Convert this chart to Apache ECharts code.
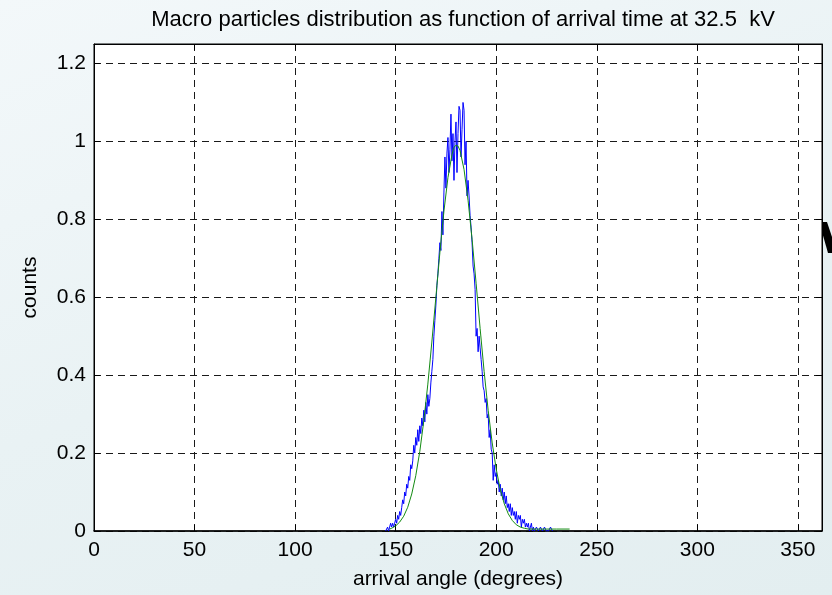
<!DOCTYPE html>
<html>
<head>
<meta charset="utf-8">
<script src="https://cdn.jsdelivr.net/npm/echarts@6/dist/echarts.min.js"></script>
<style>
html,body{margin:0;padding:0;}
#chart{width:832px;height:595px;background:linear-gradient(160deg,#f3f8fa 0%,#e9f2f4 50%,#e3eef0 100%);}
</style>
</head>
<body>
<div id="chart"></div>
<script>
const titleText = 'Macro particles distribution as function of arrival time at 32.5  kV';
const xName = 'arrival angle (degrees)';
const yName = 'counts';
const xTicks = [0, 50, 100, 150, 200, 250, 300, 350];
const yTicks = [0, 0.2, 0.4, 0.6, 0.8, 1, 1.2];

// measured histogram (blue)
const blueAngle = [
145.0,145.5,146.0,146.5,147.0,147.5,148.0,148.5,149.0,149.5,
150.0,150.5,151.0,151.5,152.0,152.5,153.0,153.5,154.0,154.5,
155.0,155.5,156.0,156.5,157.0,157.5,158.0,158.5,159.0,159.5,
160.0,160.5,161.0,161.5,162.0,162.5,163.0,163.5,164.0,164.5,
165.0,165.5,166.0,166.5,167.0,167.5,168.0,168.5,169.0,169.5,
170.0,170.5,171.0,171.5,172.0,172.5,173.0,173.5,174.0,174.5,
175.0,175.5,176.0,176.5,177.0,177.5,178.0,178.5,179.0,179.5,
180.0,180.5,181.0,181.5,182.0,182.5,183.0,183.5,184.0,184.5,
185.0,185.5,186.0,186.5,187.0,187.5,188.0,188.5,189.0,189.5,
190.0,190.5,191.0,191.5,192.0,192.5,193.0,193.5,194.0,194.5,
195.0,195.5,196.0,196.5,197.0,197.5,198.0,198.5,199.0,199.5,
200.0,200.5,201.0,201.5,202.0,202.5,203.0,203.5,204.0,204.5,
205.0,205.5,206.0,206.5,207.0,207.5,208.0,208.5,209.0,209.5,
210.0,210.5,211.0,211.5,212.0,212.5,213.0,213.5,214.0,214.5,
215.0,215.5,216.0,216.5,217.0,217.5,218.0,218.5,219.0,220.0,
221.0,222.0,223.0,224.0,225.0,226.0,227.0,228.0
];
const blueCounts = [
0.00,0.00,0.01,0.00,0.01,0.02,0.01,0.02,0.01,0.02,
0.03,0.02,0.04,0.03,0.05,0.04,0.06,0.08,0.07,0.10,
0.09,0.12,0.11,0.14,0.13,0.17,0.16,0.18,0.22,0.20,
0.24,0.22,0.26,0.23,0.27,0.25,0.29,0.27,0.31,0.28,
0.33,0.30,0.35,0.32,0.34,0.38,0.41,0.44,0.50,0.54,
0.58,0.63,0.66,0.70,0.74,0.72,0.82,0.76,0.87,0.96,
0.88,0.97,1.01,0.92,0.98,1.07,0.95,1.02,0.90,1.00,
1.05,0.92,1.02,1.09,1.08,0.96,1.03,1.10,1.08,0.94,
1.00,0.86,0.90,0.86,0.81,0.78,0.74,0.68,0.66,0.62,
0.50,0.52,0.46,0.50,0.47,0.44,0.41,0.37,0.36,0.33,
0.34,0.29,0.30,0.24,0.26,0.21,0.20,0.13,0.17,0.14,
0.15,0.12,0.13,0.10,0.12,0.09,0.11,0.08,0.10,0.07,
0.09,0.06,0.07,0.05,0.07,0.04,0.06,0.04,0.05,0.03,
0.05,0.02,0.04,0.03,0.04,0.01,0.03,0.02,0.03,0.01,
0.02,0.01,0.02,0.00,0.01,0.02,0.00,0.01,0.00,0.01,
0.00,0.01,0.00,0.01,0.00,0.00,0.01,0.00
];

// fitted curve (green)
const fitAngle = [147,148,150,152,154,156,158,160,162,164,166,168,170,172,174,176,178,179,180,181,182,184,186,188,190,192,194,196,198,200,202,204,206,208,210,212,214,216,220,225,230,236.5];
const fitCounts = [0.005,0.007,0.013,0.023,0.038,0.061,0.095,0.142,0.204,0.283,0.377,0.485,0.600,0.715,0.821,0.907,0.966,0.985,0.990,0.988,0.977,0.928,0.849,0.749,0.636,0.520,0.409,0.310,0.226,0.159,0.107,0.070,0.044,0.027,0.016,0.010,0.007,0.005,0.005,0.005,0.005,0.005];

const FONT = 'Liberation Sans, Arial, sans-serif';
const chart = echarts.init(document.getElementById('chart'), null, {renderer: 'canvas'});

const gridDash = {color: '#1a1a1a', width: 1, type: [7, 5]};
const xMax = 362, yMax = 1.25;

chart.setOption({
  animation: false,
  backgroundColor: 'transparent',
  title: {
    text: titleText,
    left: 458, top: 4, textAlign: 'center',
    textStyle: {fontFamily: FONT, fontSize: 22, fontWeight: 'normal', color: '#000'}
  },
  grid: {left: 94, right: 10, top: 44, bottom: 64, show: true, backgroundColor: '#ffffff', borderColor: '#000', borderWidth: 1},
  xAxis: [{
    type: 'value', min: 0, max: xMax, interval: 50,
    name: xName, nameLocation: 'middle', nameGap: 38,
    nameTextStyle: {fontFamily: FONT, fontSize: 21, color: '#000'},
    axisLine: {show: true, onZero: false, lineStyle: {color: '#000', width: 1.5}},
    axisTick: {show: true, inside: true, length: 6, lineStyle: {color: '#000'}},
    axisLabel: {fontFamily: FONT, fontSize: 21, color: '#000', margin: 9, showMaxLabel: false,
      formatter: v => xTicks.includes(v) ? String(v) : ''},
    splitLine: {show: true, lineStyle: gridDash}
  }, {
    type: 'value', min: 0, max: xMax, interval: 50, position: 'top',
    axisLine: {show: true, onZero: false, lineStyle: {color: '#000', width: 1}},
    axisTick: {show: true, inside: true, length: 6, lineStyle: {color: '#000'}},
    axisLabel: {show: false}, splitLine: {show: false}
  }],
  yAxis: [{
    type: 'value', min: 0, max: yMax, interval: 0.2,
    name: yName, nameLocation: 'middle', nameGap: 53,
    nameTextStyle: {fontFamily: FONT, fontSize: 21, color: '#000'},
    axisLine: {show: true, onZero: false, lineStyle: {color: '#000', width: 1}},
    axisTick: {show: true, inside: true, length: 6, lineStyle: {color: '#000'}},
    axisLabel: {fontFamily: FONT, fontSize: 21, color: '#000', margin: 8, showMaxLabel: false,
      formatter: v => {
        const m = yTicks.find(t => Math.abs(t - v) < 1e-6);
        return m === undefined ? '' : String(m);
      }},
    splitLine: {show: true, lineStyle: gridDash}
  }, {
    type: 'value', min: 0, max: yMax, interval: 0.2, position: 'right',
    axisLine: {show: true, onZero: false, lineStyle: {color: '#000', width: 1}},
    axisTick: {show: true, inside: true, length: 6, lineStyle: {color: '#000'}},
    axisLabel: {show: false}, splitLine: {show: false}
  }],
  graphic: [{
    type: 'polygon', silent: true, z: 100,
    shape: {points: [[822, 222], [827, 222], [832, 237], [832, 253], [828, 253], [822, 232]]},
    style: {fill: '#000'}
  }],
  series: [{
    type: 'line', name: 'measured', xAxisIndex: 0, yAxisIndex: 0,
    data: blueAngle.map((a, i) => [a, blueCounts[i]]),
    showSymbol: false, symbol: 'none',
    lineStyle: {color: '#0000ff', width: 1}, z: 2
  }, {
    type: 'line', name: 'fit', xAxisIndex: 0, yAxisIndex: 0,
    data: fitAngle.map((a, i) => [a, fitCounts[i]]),
    showSymbol: false, symbol: 'none', smooth: false,
    lineStyle: {color: '#138a13', width: 1}, z: 3
  }]
});
</script>
</body>
</html>
